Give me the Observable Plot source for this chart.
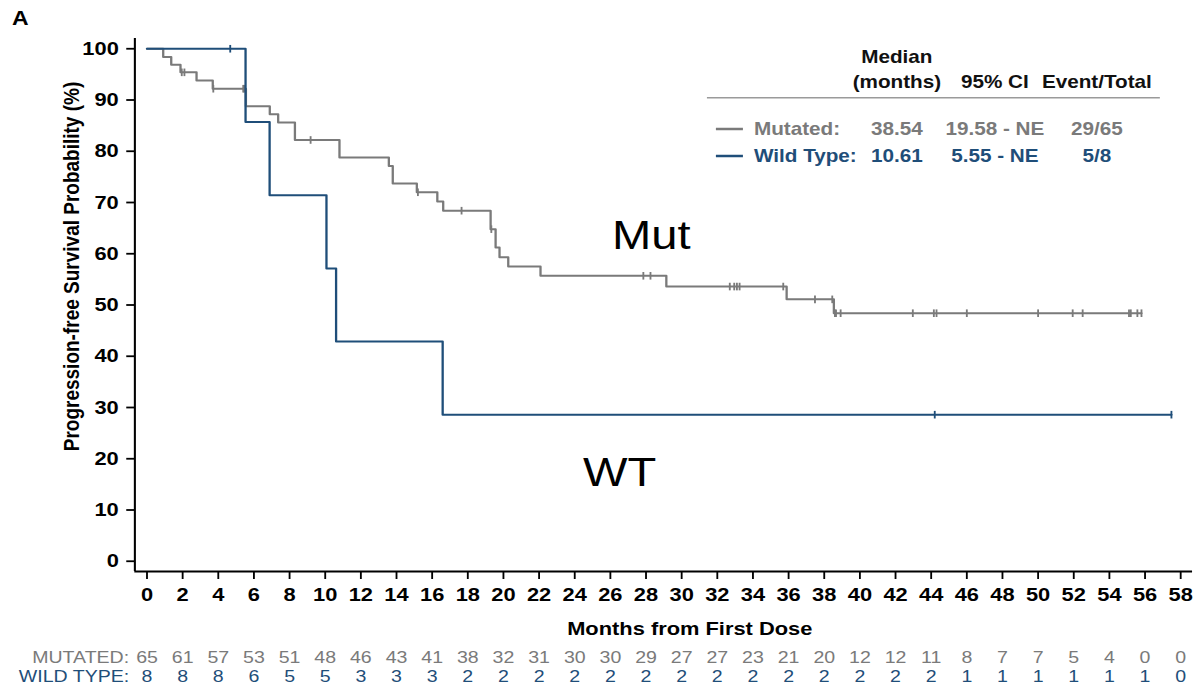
<!DOCTYPE html>
<html>
<head>
<meta charset="utf-8">
<script src="https://cdn.jsdelivr.net/npm/d3@7"></script>
<script src="https://cdn.jsdelivr.net/npm/@observablehq/plot@0.6"></script>
<style>
  body { margin: 0; background: #fff; }
  #chart { position: relative; width: 1197px; height: 691px; overflow: hidden; }
</style>
</head>
<body>
<div id="chart"></div>
<script>
// ---------- data ----------
const mutTime = [0, 0.91, 1.36, 1.88, 2.78, 3.69, 5.55, 6.89, 7.36, 8.30, 10.80, 13.57, 13.79, 15.14, 16.29, 16.62, 19.28, 19.56, 19.78, 20.27, 22.08, 29.14, 35.89, 38.54, 55.8];
const mutSurv = [100, 98.4, 96.9, 95.4, 93.8, 92.2, 88.8, 87.2, 85.6, 82.2, 78.8, 77.1, 73.7, 72.0, 70.2, 68.4, 64.8, 61.2, 59.3, 57.5, 55.7, 53.6, 51.1, 48.4, 48.4];
const mutCensor = [1.95, 2.1, 3.72, 5.4, 5.46, 9.18, 15.2, 17.65, 19.32, 27.85, 28.25, 32.7, 32.95, 33.1, 33.25, 35.7, 37.48, 38.45, 38.6, 38.66, 38.92, 42.97, 44.15, 44.3, 46.0, 50.0, 51.94, 52.5, 55.1, 55.2, 55.57, 55.8];

const wtTime = [0, 5.53, 6.88, 10.07, 10.61, 16.59, 57.48];
const wtSurv = [100, 85.7, 71.4, 57.1, 42.9, 28.6, 28.6];
const wtCensor = [4.67, 44.2, 57.48];

const xTicks = [0, 2, 4, 6, 8, 10, 12, 14, 16, 18, 20, 22, 24, 26, 28, 30, 32, 34, 36, 38, 40, 42, 44, 46, 48, 50, 52, 54, 56, 58];
const yTicks = [0, 10, 20, 30, 40, 50, 60, 70, 80, 90, 100];

const riskTimes = xTicks;
const riskMut = [65, 61, 57, 53, 51, 48, 46, 43, 41, 38, 32, 31, 30, 30, 29, 27, 27, 23, 21, 20, 12, 12, 11, 8, 7, 7, 5, 4, 0, 0];
const riskWt = [8, 8, 8, 6, 5, 5, 3, 3, 3, 2, 2, 2, 2, 2, 2, 2, 2, 2, 2, 2, 2, 2, 2, 1, 1, 1, 1, 1, 1, 0];
const riskLabels = ["MUTATED:", "WILD TYPE:"];

const legendHeader = ["Median", "(months)", "95% CI", "Event/Total"];
const legendNames = ["Mutated:", "Wild Type:"];
const legendMedians = ["38.54", "10.61"];
const legendCIs = ["19.58 - NE", "5.55 - NE"];
const legendEvents = ["29/65", "5/8"];
const annotations = ["Mut", "WT"];
const panelLetter = "A";
const xLabel = "Months from First Dose";
const yLabel = "Progression-free Survival Probability (%)";

// ---------- styles ----------
const W = 1041, H = 691;            // drawing space, stretched horizontally to 1197px
const mutColor = "#7a7a7a", wtColor = "#1f4e79";
const font = "'Liberation Sans', Arial, Helvetica, sans-serif";
const xDomain = [-0.68, 58.67];
const yDomain = [-2, 102];

function survAt(times, surv, t) {
  let s = surv[0];
  for (let i = 0; i < times.length; i++) if (times[i] <= t) s = surv[i];
  return s;
}
const mutLine = mutTime.map((t, i) => ({t, s: mutSurv[i]}));
const wtLine = wtTime.map((t, i) => ({t, s: wtSurv[i]}));
const mutCens = mutCensor.map(t => ({t, s: survAt(mutTime, mutSurv, t)}));
const wtCens = wtCensor.map(t => ({t, s: survAt(wtTime, wtSurv, t)}));
const riskMutRows = riskTimes.map((t, i) => ({t, n: riskMut[i]}));
const riskWtRows = riskTimes.map((t, i) => ({t, n: riskWt[i]}));

const vtick = {
  draw(ctx, size) {
    const r = Math.sqrt(size / Math.PI);
    ctx.moveTo(0, -r);
    ctx.lineTo(0, r);
  }
};

const plot = Plot.plot({
  width: W, height: H,
  marginLeft: 116.8, marginRight: 4.3, marginTop: 38, marginBottom: 120,
  style: {fontFamily: font, fontSize: "19px", fontWeight: "bold", color: "#000", background: "#fff", overflow: "visible"},
  x: {domain: xDomain},
  y: {domain: yDomain},
  marks: [
    Plot.axisX({ticks: xTicks, tickSize: 8, tickPadding: 8, strokeWidth: 1.6, label: null, tickFormat: d => String(d)}),
    Plot.axisY({ticks: yTicks, tickSize: 7, tickPadding: 7, strokeWidth: 1.8, label: null, tickFormat: d => String(d)}),
    Plot.ruleX([xDomain[0]], {stroke: "#000", strokeWidth: 1.8}),
    Plot.ruleY([yDomain[0]], {stroke: "#000", strokeWidth: 2}),
    Plot.line(mutLine, {x: "t", y: "s", curve: "step-after", stroke: mutColor, strokeWidth: 2}),
    Plot.dot(mutCens, {x: "t", y: "s", symbol: vtick, r: 3.8, stroke: mutColor, strokeWidth: 1.6, fill: "none"}),
    Plot.line(wtLine, {x: "t", y: "s", curve: "step-after", stroke: wtColor, strokeWidth: 2}),
    Plot.dot(wtCens, {x: "t", y: "s", symbol: vtick, r: 3.8, stroke: wtColor, strokeWidth: 1.6, fill: "none"}),
    Plot.text([xLabel], {text: d => d, frameAnchor: "bottom", dx: 22.6, dy: 63, fontSize: 19, fontWeight: "bold", fill: "#000"}),
    Plot.text(riskMutRows, {x: "t", text: "n", frameAnchor: "bottom", dy: 91, fill: mutColor, fontWeight: "normal", fontSize: 17}),
    Plot.text(riskWtRows, {x: "t", text: "n", frameAnchor: "bottom", dy: 110, fill: wtColor, fontWeight: "normal", fontSize: 17}),
    Plot.text([riskLabels[0]], {text: d => d, frameAnchor: "bottom-left", textAnchor: "end", dx: -5, dy: 91, fill: mutColor, fontWeight: "normal", fontSize: 17}),
    Plot.text([riskLabels[1]], {text: d => d, frameAnchor: "bottom-left", textAnchor: "end", dx: -5, dy: 110, fill: wtColor, fontWeight: "normal", fontSize: 17})
  ]
});

const svg = plot.tagName.toLowerCase() === "svg" ? plot : plot.querySelector("svg");

// decorations: panel letter, y title, in-plot labels, legend table
const g = d3.select(svg).append("g").attr("font-family", font).attr("text-anchor", "start");
g.append("text").attr("x", 10.4).attr("y", 25).attr("font-size", 20).attr("font-weight", "bold").attr("fill", "#000").text(panelLetter);
g.append("text")
  .attr("transform", "translate(62.2,266.5) rotate(-90)")
  .attr("text-anchor", "middle").attr("dy", "0.35em")
  .attr("font-size", 19).attr("font-weight", "bold").attr("fill", "#000").text(yLabel);
g.append("text").attr("x", 532.2).attr("y", 249.3).attr("font-size", 41).attr("font-weight", "normal").attr("fill", "#000").text(annotations[0]);
g.append("text").attr("x", 507).attr("y", 486).attr("font-size", 41).attr("font-weight", "normal").attr("fill", "#000").text(annotations[1]);

const leg = g.append("g").attr("font-size", 18).attr("font-weight", "bold");
const colC = [780, 865.2, 953.9];
leg.append("text").attr("x", colC[0]).attr("y", 63).attr("text-anchor", "middle").attr("fill", "#111").text(legendHeader[0]);
leg.append("text").attr("x", colC[0]).attr("y", 88).attr("text-anchor", "middle").attr("fill", "#111").text(legendHeader[1]);
leg.append("text").attr("x", colC[1]).attr("y", 88).attr("text-anchor", "middle").attr("fill", "#111").text(legendHeader[2]);
leg.append("text").attr("x", colC[2]).attr("y", 88).attr("text-anchor", "middle").attr("fill", "#111").text(legendHeader[3]);
leg.append("line").attr("x1", 614.8).attr("x2", 1008.7).attr("y1", 97.7).attr("y2", 97.7).attr("stroke", "#9a9a9a").attr("stroke-width", 1.5);
const rowColors = [mutColor, wtColor];
const rowBase = [135, 162];
for (let i = 0; i < 2; i++) {
  leg.append("line").attr("x1", 622.6).attr("x2", 646.1).attr("y1", rowBase[i] - 6).attr("y2", rowBase[i] - 6).attr("stroke", rowColors[i]).attr("stroke-width", 2.5);
  leg.append("text").attr("x", 655.7).attr("y", rowBase[i]).attr("text-anchor", "start").attr("fill", rowColors[i]).text(legendNames[i]);
  leg.append("text").attr("x", colC[0]).attr("y", rowBase[i]).attr("text-anchor", "middle").attr("fill", rowColors[i]).text(legendMedians[i]);
  leg.append("text").attr("x", colC[1]).attr("y", rowBase[i]).attr("text-anchor", "middle").attr("fill", rowColors[i]).text(legendCIs[i]);
  leg.append("text").attr("x", colC[2]).attr("y", rowBase[i]).attr("text-anchor", "middle").attr("fill", rowColors[i]).text(legendEvents[i]);
}

// stretch horizontally like the reference image
svg.setAttribute("viewBox", `0 0 ${W} ${H}`);
svg.setAttribute("width", 1197);
svg.setAttribute("height", H);
svg.setAttribute("preserveAspectRatio", "none");
svg.style.width = "1197px";
svg.style.height = H + "px";
svg.style.maxWidth = "none";
document.getElementById("chart").appendChild(plot);
</script>
</body>
</html>
